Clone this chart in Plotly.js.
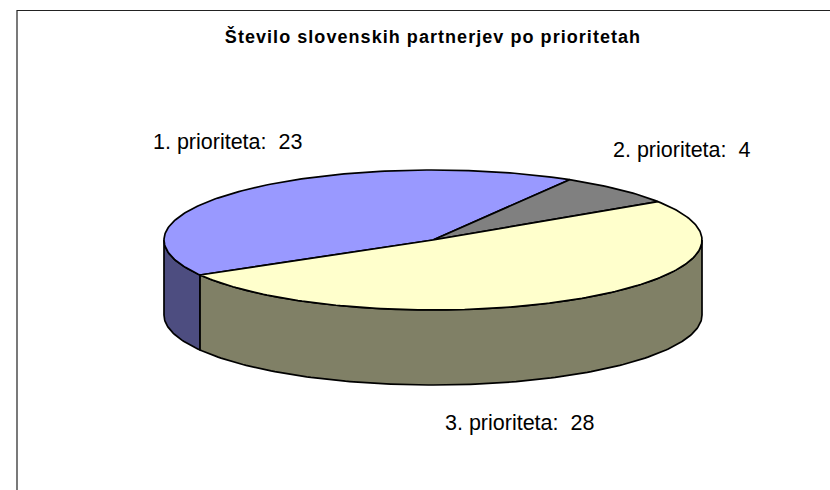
<!DOCTYPE html>
<html>
<head>
<meta charset="utf-8">
<script src="https://cdn.plot.ly/plotly-3.0.1.min.js"></script>
<style>
html,body{margin:0;padding:0;background:#fff;overflow:hidden}
#chart{width:830px;height:490px}
.gtitle{letter-spacing:1.05px}
</style>
</head>
<body>
<div id="chart"></div>
<script>
const categories = ["1. prioriteta", "2. prioriteta", "3. prioriteta"];
const values = [23, 4, 28];
const topColors = ["#9999FF", "#808080", "#FFFFCC"];
const sideColors = ["#4D4D80", "#404040", "#808066"];
const labelX = [227, 681, 519];
const labelY = [142, 150, 423];
const titleText = "Število slovenskih partnerjev po prioritetah";

const cx = 433, cy = 240, rx = 269, ry = 70, depth = 75;
const startClock = 240; // degrees clockwise from the top

const total = values.reduce((a, b) => a + b, 0);
const px = deg => cx + rx * Math.sin(deg * Math.PI / 180);
const py = (deg, drop) => cy - ry * Math.cos(deg * Math.PI / 180) + drop;
const arc = (from, to) => {
  const n = Math.max(2, Math.ceil(Math.abs(to - from)));
  return Array.from({length: n + 1}, (_, i) => from + (to - from) * i / n);
};

const sides = [], tops = [];
let a = startClock;
values.forEach((v, i) => {
  const from = a, to = a + v / total * 360;
  a = to;
  // front wall: the part of the slice between 90° and 270° clockwise from the top
  [0, 360].forEach(shift => {
    const s = Math.max(from, 90 + shift), e = Math.min(to, 270 + shift);
    if (e > s) {
      const d = arc(s, e);
      const r = d.slice().reverse();
      sides.push({
        x: d.map(px).concat(r.map(px), [px(s)]),
        y: d.map(t => py(t, 0)).concat(r.map(t => py(t, depth)), [py(s, 0)]),
        type: "scatter", mode: "lines", fill: "toself", fillcolor: sideColors[i],
        line: {color: "#000", width: 1.7}, hoverinfo: "skip", showlegend: false
      });
    }
  });
  const d = arc(from, to);
  tops.push({
    x: [cx].concat(d.map(px), [cx]),
    y: [cy].concat(d.map(t => py(t, 0)), [cy]),
    type: "scatter", mode: "lines", fill: "toself", fillcolor: topColors[i],
    line: {color: "#000", width: 1.7}, hoverinfo: "skip", showlegend: false
  });
});

const annotations = categories.map((c, i) => ({
  x: labelX[i], y: labelY[i], xref: "x", yref: "y",
  text: c + ":\u00a0 " + values[i], showarrow: false,
  xanchor: "center", yanchor: "middle",
  font: {family: "Liberation Sans, Arial, sans-serif", size: 21.5, color: "#000"}
}));

Plotly.newPlot("chart", sides.concat(tops), {
  width: 830, height: 490,
  margin: {l: 0, r: 0, t: 0, b: 0},
  paper_bgcolor: "#fff", plot_bgcolor: "#fff",
  showlegend: false,
  title: {
    text: "<b>" + titleText + "</b>",
    x: 433 / 830, xanchor: "center", y: 1 - 37 / 490, yanchor: "middle",
    font: {family: "Liberation Sans, Arial, sans-serif", size: 18, color: "#000"}
  },
  xaxis: {range: [0, 830], visible: false, fixedrange: true},
  yaxis: {range: [490, 0], visible: false, fixedrange: true},
  annotations: annotations,
  shapes: [{
    type: "path", xref: "x", yref: "y",
    path: "M17,490 L17,10.5 L830,10.5",
    line: {color: "#222", width: 1.2}
  }]
}, {displayModeBar: false, staticPlot: true});
</script>
</body>
</html>
